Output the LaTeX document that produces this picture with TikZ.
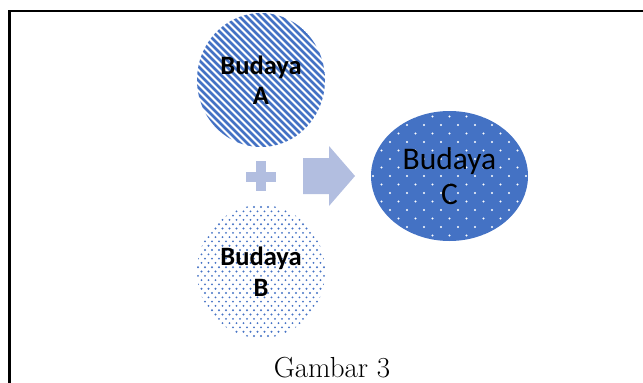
\documentclass[tikz,border=0pt]{standalone}
\usepackage{fontspec}
\newfontfamily\calibri{Carlito}
\usetikzlibrary{shapes.geometric}
\definecolor{blueA}{RGB}{68,114,196}
\definecolor{symc}{RGB}{178,190,224}
\tikzset{
  blob/.style={ellipse, inner sep=0pt, align=center, text=black},
  stripes/.style={path picture={
      \foreach \k in {-210,-203,...,210}
        \draw[blueA, line width=2.5pt]
          ([shift={({\k-110},-110)}]path picture bounding box.center) -- ++(220,220);}},
  bluedots/.style={path picture={
      \foreach \j in {0,...,34}
        \foreach \i in {-11,...,11}
          \fill[blueA] ([shift={({\i*7+mod(\j,2)*3.5},{(\j-17)*4.3})}]path picture bounding box.center) circle[radius=1.05pt];}},
  whitedots/.style={fill=blueA, path picture={
      \foreach \j in {0,...,18}
        \foreach \i in {-6,...,6}
          \fill[white] ([shift={({\i*17+mod(\j,2)*8.5},{(\j-9)*8.5})}]path picture bounding box.center) circle[radius=1.1pt];}},
  frameline/.style={line width=2.3pt, black},
  symbol/.style={fill=symc}
}
\begin{document}
\begin{tikzpicture}[x=1pt,y=-1pt]
\useasboundingbox (0,0) rectangle (643,383);
% frame
\coordinate (fb) at (9.5,383);
\coordinate (ftl) at (9.5,11);
\coordinate (ftr) at (643,11);
\draw[frameline] (fb) -- (ftl) -- (ftr);
% circles
\node[blob, stripes, minimum width=128pt, minimum height=134pt,
      font=\calibri\bfseries\fontsize{26.5pt}{30pt}\selectfont] (A) at (261,80) {Budaya\\A};
\node[blob, bluedots, minimum width=128pt, minimum height=133pt,
      font=\calibri\bfseries\fontsize{26.5pt}{31pt}\selectfont] (B) at (261,271.5) {Budaya\\B};
\node[blob, whitedots, minimum width=157pt, minimum height=130pt,
      font=\calibri\fontsize{31.5pt}{35pt}\selectfont] (C) at (449.5,176) {Budaya\\C};
% plus
\fill[symbol] (246,172) rectangle (276,182);
\fill[symbol] (256,161) rectangle (266,191);
% arrow
\fill[symbol] (303,158) -- (329,158) -- (329,146) -- (355,176) -- (329,206) -- (329,194) -- (303,194) -- cycle;
% caption
\node[anchor=base, inner sep=0pt, font=\fontsize{29pt}{34pt}\selectfont] (cap) at (332,377) {Gambar 3};
\end{tikzpicture}
\end{document}
